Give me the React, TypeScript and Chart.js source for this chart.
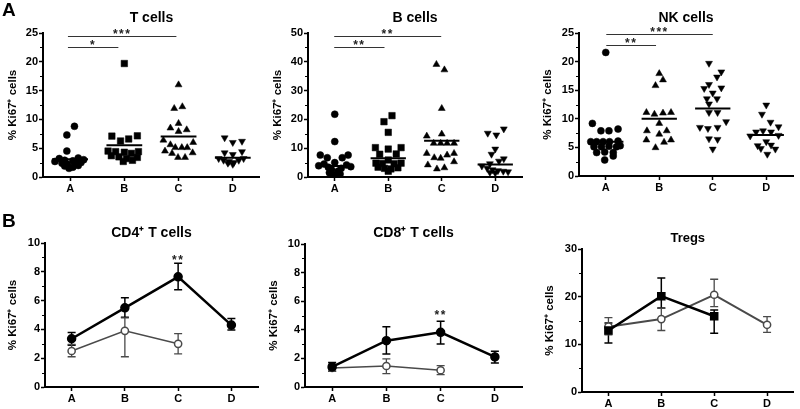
import React, { useEffect, useRef } from 'react';
import { Chart, registerables } from 'chart.js';
Chart.register(...registerables);

const FONT = '"Liberation Sans", Arial, Helvetica, sans-serif';
const categories = ['A', 'B', 'C', 'D'];
const yAxisTitle = '% Ki67\u207A cells';

// ---------- Panel A: T cells ----------
const tCellsA = [8.8, 7.3, 4.5, 3.3, 3.2, 3.0, 2.9, 2.8, 2.7, 2.5, 2.4, 2.3, 2.2, 2.0, 1.9, 1.7, 1.5];
const tCellsAJit = [0.08, -0.06, -0.06, 0.15, -0.2, 0.25, -0.1, 0.05, -0.28, 0.2, -0.15, 0.1, -0.05, 0.15, -0.1, 0.05, -0.02];
const tCellsB = [19.7, 7.1, 7.15, 6.25, 6.6, 4.5, 4.4, 4.3, 4.1, 4.4, 3.7, 3.5, 3.2, 2.9, 2.7, 3.4];
const tCellsBJit = [0, -0.23, 0.24, -0.07, 0.08, -0.3, -0.16, 0.0, 0.13, 0.26, -0.24, -0.1, 0.04, 0.15, -0.02, 0.24];
const tCellsC = [16.0, 11.9, 12.2, 9.3, 8.5, 8.2, 7.9, 6.4, 5.6, 5.1, 5.1, 5.1, 6.0, 4.5, 4.1, 4.2, 3.4, 3.4];
const tCellsCJit = [0, -0.08, 0.07, 0, -0.15, 0.15, 0, -0.28, -0.15, -0.06, 0.06, 0.16, 0.27, -0.25, -0.12, 0.26, -0.01, 0.12];
const tCellsD = [6.8, 6.0, 6.2, 4.2, 3.9, 4.4, 3.2, 2.9, 2.7, 2.5, 2.9, 3.2, 2.2, 2.4];
const tCellsDJit = [-0.15, 0, 0.17, -0.15, 0, 0.17, -0.26, -0.17, -0.07, 0.02, 0.11, 0.2, 0, -0.09];
const tCellsMedians = [3.1, 5.5, 7.05, 3.35];

// ---------- Panel A: B cells ----------
const bCellsA = [21.8, 12.3, 7.6, 6.7, 6.7, 7.6, 5.0, 4.5, 4.2, 3.9, 3.6, 3.4, 3.0, 2.5, 2.0, 1.5, 1.0, 0.7, 0.4];
const bCellsAJit = [0, 0, -0.27, -0.14, 0.14, 0.25, 0, -0.2, 0.22, -0.3, 0.3, -0.12, 0.12, -0.06, 0.06, -0.1, 0.1, 0, -0.03];
const bCellsB = [21.3, 19.2, 15.5, 10.2, 10.2, 9.7, 7.9, 8.0, 5.9, 4.8, 4.7, 4.6, 4.8, 3.4, 3.0, 2.8, 3.2, 2.0];
const bCellsBJit = [0.07, -0.08, 0, -0.24, 0.24, 0, -0.16, 0.15, 0, -0.23, -0.11, 0.11, 0.24, -0.19, -0.07, 0.05, 0.18, 0];
const bCellsC = [39.1, 37.2, 23.8, 14.2, 14.9, 11.7, 11.7, 11.7, 11.7, 8.2, 8.2, 6.7, 6.5, 7.6, 5.3, 4.2, 2.8, 3.2];
const bCellsCJit = [-0.1, 0.05, 0, -0.28, 0, -0.15, -0.02, 0.1, 0.23, -0.28, 0.23, -0.14, -0.02, 0.1, 0.23, -0.26, -0.09, 0.05];
const bCellsD = [16.7, 15.2, 14.6, 9.7, 7.9, 6.3, 5.5, 4.6, 3.8, 3.0, 2.5, 2.2, 2.0, 1.6, 1.4, 1.8];
const bCellsDJit = [0.16, -0.14, 0.02, 0, -0.07, 0.16, 0.07, -0.1, -0.25, -0.15, -0.05, 0.05, 0.15, -0.1, 0, 0.24];
const bCellsMedians = [3.8, 6.5, 12.6, 4.3];

// ---------- Panel A: NK cells ----------
const nkCellsA = [21.6, 9.2, 7.9, 7.9, 8.2, 6.0, 6.0, 6.0, 6.0, 6.1, 5.1, 5.1, 5.2, 5.1, 5.3, 4.1, 4.2, 4.1, 2.8, 3.5];
const nkCellsAJit = [0, -0.25, -0.09, 0.06, 0.23, -0.28, -0.17, -0.05, 0.07, 0.23, -0.22, -0.08, 0.06, 0.2, 0.27, -0.17, -0.02, 0.14, -0.02, 0.14];
const nkCellsB = [17.9, 15.8, 16.8, 11.1, 10.8, 11.0, 11.1, 9.2, 7.9, 7.3, 7.9, 6.3, 5.9, 6.3, 4.95];
const nkCellsBJit = [0, -0.07, 0.07, -0.24, -0.09, 0.07, 0.22, 0, -0.23, 0, 0.14, -0.24, 0.09, 0.22, -0.07];
const nkCellsC = [19.7, 18.2, 17.3, 15.3, 16.0, 15.4, 14.5, 13.5, 13.5, 12.6, 11.1, 11.1, 9.5, 8.5, 8.3, 8.5, 6.5, 6.4, 4.7];
const nkCellsCJit = [-0.07, 0.16, 0.08, -0.16, -0.07, 0.16, 0, -0.11, 0.08, -0.07, -0.07, 0.09, 0.25, -0.24, -0.09, 0.09, -0.07, 0.09, 0];
const nkCellsD = [12.4, 10.8, 9.4, 8.6, 7.7, 7.9, 7.7, 7.1, 7.0, 5.3, 6.0, 5.4, 4.7, 3.8, 4.8];
const nkCellsDJit = [0, -0.08, 0.08, 0.23, -0.19, -0.06, 0.09, 0.23, -0.3, -0.16, 0, 0.09, 0.17, 0.02, -0.1];
const nkCellsMedians = [6.0, 10.0, 11.8, 7.15];

// ---------- Panel B: CD4+ T cells ----------
const cd4Black = [3.35, 5.5, 7.65, 4.3];
const cd4BlackHi = [3.78, 6.2, 8.6, 4.75];
const cd4BlackLo = [2.9, 4.85, 6.75, 3.95];
const cd4Gray = [2.5, 3.9, 3.0];
const cd4GrayHi = [2.95, 4.8, 3.7];
const cd4GrayLo = [2.1, 2.1, 2.3];

// ---------- Panel B: CD8+ T cells ----------
const cd8Black = [1.4, 3.24, 3.82, 2.1];
const cd8BlackHi = [1.72, 4.22, 4.6, 2.5];
const cd8BlackLo = [1.1, 2.3, 3.0, 1.68];
const cd8Gray = [1.33, 1.47, 1.17];
const cd8GrayHi = [1.6, 1.96, 1.5];
const cd8GrayLo = [1.1, 0.93, 0.86];

// ---------- Panel B: Tregs ----------
const tregBlack = [12.9, 20.1, 15.9];
const tregBlackHi = [14.5, 23.9, 17.2];
const tregBlackLo = [10.3, 17.6, 12.35];
const tregGray = [13.7, 15.3, 20.4, 14.1];
const tregGrayHi = [15.6, 17.6, 23.65, 15.8];
const tregGrayLo = [12.0, 12.9, 17.9, 12.5];

const BLACK = '#000000';
const GRAY = '#4a4a4a';

type Group = { values: number[]; jitter: number[]; shape: string };
type Sig = { from: number; to: number; y: number; label: string };
type ErrBar = { hi: number[]; lo: number[]; color: string; width: number };
type Spec = {
  left: number; top: number; w: number; h: number;
  padLeft: number; padRight: number; yw: number; xh: number;
  title: string; titleSize: number; titleTop: number; titleBottom: number;
  yMax: number; yStep: number; yMinor: number;
  datasets: any[];
  medians?: number[];
  sigs?: Sig[];
  stars?: { x: number; y: number; label: string }[];
  errors?: ErrBar[];
};

function scatterDatasets(groups: Group[]) {
  return groups.map((g, gi) => {
    const down = g.shape === 'down';
    const style = down ? 'triangle' : g.shape;
    const r = style === 'circle' ? 3.5 : style === 'rect' ? 4.6 : 4.0;
    return {
      data: g.values.map((v, i) => ({ x: gi + 1 + g.jitter[i], y: v })),
      pointStyle: style,
      pointRotation: down ? 180 : 0,
      pointRadius: r,
      pointBackgroundColor: BLACK,
      pointBorderColor: BLACK,
      pointBorderWidth: 0.5,
      showLine: false,
    };
  });
}

function lineDataset(values: number[], color: string, width: number, filled: boolean, style: string) {
  return {
    data: values.map((v, i) => ({ x: i + 1, y: v })),
    showLine: true,
    borderColor: color,
    borderWidth: width,
    pointStyle: style,
    pointRadius: style === 'rect' ? 5 : filled ? 4 : 3.6,
    pointBackgroundColor: filled ? color : '#ffffff',
    pointBorderColor: color,
    pointBorderWidth: 1.5,
    tension: 0,
  };
}

function overlay(spec: Spec) {
  return {
    id: 'overlay',
    beforeDatasetsDraw(chart: any) {
      const { ctx } = chart;
      const xs = chart.scales.x, ys = chart.scales.y;
      (spec.errors || []).forEach((eb) => {
        ctx.save();
        ctx.strokeStyle = eb.color;
        ctx.lineWidth = eb.width;
        eb.hi.forEach((h, i) => {
          const x = xs.getPixelForValue(i + 1);
          const y1 = ys.getPixelForValue(h);
          const y2 = ys.getPixelForValue(eb.lo[i]);
          ctx.beginPath();
          ctx.moveTo(x, y1); ctx.lineTo(x, y2);
          ctx.moveTo(x - 4, y1); ctx.lineTo(x + 4, y1);
          ctx.moveTo(x - 4, y2); ctx.lineTo(x + 4, y2);
          ctx.stroke();
        });
        ctx.restore();
      });
    },
    afterDatasetsDraw(chart: any) {
      const { ctx } = chart;
      const xs = chart.scales.x, ys = chart.scales.y;
      (spec.medians || []).forEach((m, i) => {
        const y = ys.getPixelForValue(m);
        ctx.save();
        ctx.strokeStyle = BLACK;
        ctx.lineWidth = 2;
        ctx.beginPath();
        ctx.moveTo(xs.getPixelForValue(i + 1 - 0.33), y);
        ctx.lineTo(xs.getPixelForValue(i + 1 + 0.33), y);
        ctx.stroke();
        ctx.restore();
      });
    },
    afterDraw(chart: any) {
      const { ctx, chartArea } = chart;
      const xs = chart.scales.x, ys = chart.scales.y;
      ctx.save();
      ctx.strokeStyle = BLACK;
      ctx.lineWidth = 1;
      for (let v = 0; v <= spec.yMax + 1e-9; v += spec.yMinor) {
        const q = v / spec.yStep;
        if (Math.abs(q - Math.round(q)) < 1e-6) continue;
        const y = Math.round(ys.getPixelForValue(v)) + 0.5;
        ctx.beginPath();
        ctx.moveTo(chartArea.left - 3, y);
        ctx.lineTo(chartArea.left, y);
        ctx.stroke();
      }
      ctx.restore();
      const drawStars = (text: string, x: number, y: number) => {
        ctx.save();
        ctx.fillStyle = '#222';
        ctx.font = `bold 12px ${FONT}`;
        (ctx as any).letterSpacing = '1.5px';
        ctx.textAlign = 'center';
        ctx.textBaseline = 'alphabetic';
        ctx.fillText(text, x, y + 2.5);
        ctx.restore();
      };
      (spec.sigs || []).forEach((s) => {
        const y = Math.round(ys.getPixelForValue(s.y)) + 0.5;
        const x1 = xs.getPixelForValue(s.from);
        const x2 = xs.getPixelForValue(s.to);
        ctx.save();
        ctx.strokeStyle = '#333';
        ctx.lineWidth = 1;
        ctx.beginPath();
        ctx.moveTo(x1, y); ctx.lineTo(x2, y);
        ctx.stroke();
        ctx.restore();
        drawStars(s.label, (x1 + x2) / 2, y - 1);
      });
      (spec.stars || []).forEach((s) => {
        drawStars(s.label, xs.getPixelForValue(s.x), ys.getPixelForValue(s.y));
      });
    },
  };
}

function buildConfig(spec: Spec): any {
  const tickFont = { family: FONT, size: 11, weight: 'bold' as const };
  return {
    type: 'scatter',
    data: { datasets: spec.datasets },
    options: {
      animation: false,
      responsive: false,
      maintainAspectRatio: false,
      events: [],
      layout: { padding: { left: spec.padLeft, right: spec.padRight, top: 0, bottom: 0 } },
      plugins: {
        legend: { display: false },
        tooltip: { enabled: false },
        title: {
          display: true,
          text: spec.title,
          fullSize: false,
          color: '#000',
          font: { family: FONT, size: spec.titleSize, weight: 'bold' },
          padding: { top: spec.titleTop, bottom: spec.titleBottom },
        },
      },
      scales: {
        x: {
          type: 'linear',
          min: 0.5,
          max: 4.5,
          afterBuildTicks: (axis: any) => {
            axis.ticks = categories.map((_, i) => ({ value: i + 1 }));
          },
          afterFit: (axis: any) => { axis.height = spec.xh; },
          ticks: {
            callback: (v: any) => categories[Math.round(v) - 1] ?? '',
            font: { family: FONT, size: 11, weight: 'bold' },
            color: '#000',
            padding: 1,
            maxRotation: 0,
            autoSkip: false,
          },
          grid: { drawOnChartArea: false, drawTicks: true, tickLength: 4, tickColor: BLACK, tickWidth: 1.5 },
          border: { display: true, color: BLACK, width: 2 },
        },
        y: {
          type: 'linear',
          min: 0,
          max: spec.yMax,
          afterFit: (axis: any) => { axis.width = spec.yw; },
          ticks: { stepSize: spec.yStep, font: tickFont, color: '#000', padding: 1 },
          grid: { drawOnChartArea: false, drawTicks: true, tickLength: 4, tickColor: BLACK, tickWidth: 1.5 },
          border: { display: true, color: BLACK, width: 2 },
          title: {
            display: true,
            text: yAxisTitle,
            color: '#000',
            font: { family: FONT, size: 11.5, weight: 'bold' },
            padding: { top: 0, bottom: 0 },
          },
        },
      },
    },
    plugins: [overlay(spec)],
  };
}

const specs: Spec[] = [
  {
    left: 0, top: 0, w: 265, h: 200, padLeft: 6, padRight: 3, yw: 37, xh: 23,
    title: 'T cells', titleSize: 14, titleTop: 9.6, titleBottom: 6.6,
    yMax: 25, yStep: 5, yMinor: 2.5,
    datasets: scatterDatasets([
      { values: tCellsA, jitter: tCellsAJit, shape: 'circle' },
      { values: tCellsB, jitter: tCellsBJit, shape: 'rect' },
      { values: tCellsC, jitter: tCellsCJit, shape: 'triangle' },
      { values: tCellsD, jitter: tCellsDJit, shape: 'down' },
    ]),
    medians: tCellsMedians,
    sigs: [
      { from: 0.96, to: 1.89, y: 22.6, label: '*' },
      { from: 0.96, to: 2.96, y: 24.5, label: '***' },
    ],
  },
  {
    left: 265, top: 0, w: 265, h: 200, padLeft: 6, padRight: 8, yw: 37, xh: 23,
    title: 'B cells', titleSize: 14, titleTop: 9.6, titleBottom: 6.6,
    yMax: 50, yStep: 10, yMinor: 5,
    datasets: scatterDatasets([
      { values: bCellsA, jitter: bCellsAJit, shape: 'circle' },
      { values: bCellsB, jitter: bCellsBJit, shape: 'rect' },
      { values: bCellsC, jitter: bCellsCJit, shape: 'triangle' },
      { values: bCellsD, jitter: bCellsDJit, shape: 'down' },
    ]),
    medians: bCellsMedians,
    sigs: [
      { from: 0.99, to: 1.93, y: 45.2, label: '**' },
      { from: 0.99, to: 2.99, y: 49.1, label: '**' },
    ],
  },
  {
    left: 530, top: 0, w: 270, h: 200, padLeft: 11, padRight: 7, yw: 38, xh: 24,
    title: 'NK cells', titleSize: 14, titleTop: 9.6, titleBottom: 6.6,
    yMax: 25, yStep: 5, yMinor: 2.5,
    datasets: scatterDatasets([
      { values: nkCellsA, jitter: nkCellsAJit, shape: 'circle' },
      { values: nkCellsB, jitter: nkCellsBJit, shape: 'triangle' },
      { values: nkCellsC, jitter: nkCellsCJit, shape: 'down' },
      { values: nkCellsD, jitter: nkCellsDJit, shape: 'down' },
    ]),
    medians: nkCellsMedians,
    sigs: [
      { from: 1.01, to: 1.94, y: 22.9, label: '**' },
      { from: 1.01, to: 3.0, y: 24.8, label: '***' },
    ],
  },
  {
    left: 0, top: 200, w: 265, h: 209, padLeft: 6, padRight: 7, yw: 39, xh: 22,
    title: 'CD4\u207A T cells', titleSize: 14, titleTop: 24.6, titleBottom: 1.6,
    yMax: 10, yStep: 2, yMinor: 1,
    datasets: [
      lineDataset(cd4Black, BLACK, 2.5, true, 'circle'),
      lineDataset(cd4Gray, GRAY, 1.5, false, 'circle'),
    ],
    errors: [
      { hi: cd4BlackHi, lo: cd4BlackLo, color: BLACK, width: 1.5 },
      { hi: cd4GrayHi, lo: cd4GrayLo, color: GRAY, width: 1.3 },
    ],
    stars: [{ x: 3, y: 8.75, label: '**' }],
  },
  {
    left: 265, top: 200, w: 265, h: 209, padLeft: 2, padRight: 8, yw: 38, xh: 22,
    title: 'CD8\u207A T cells', titleSize: 14, titleTop: 24.6, titleBottom: 2.6,
    yMax: 10, yStep: 2, yMinor: 1,
    datasets: [
      lineDataset(cd8Black, BLACK, 2.5, true, 'circle'),
      lineDataset(cd8Gray, GRAY, 1.5, false, 'circle'),
    ],
    errors: [
      { hi: cd8BlackHi, lo: cd8BlackLo, color: BLACK, width: 1.5 },
      { hi: cd8GrayHi, lo: cd8GrayLo, color: GRAY, width: 1.3 },
    ],
    stars: [{ x: 3, y: 4.9, label: '**' }],
  },
  {
    left: 530, top: 200, w: 270, h: 209, padLeft: 13, padRight: 2, yw: 39, xh: 17,
    title: 'Tregs', titleSize: 13, titleTop: 30.2, titleBottom: 3.2,
    yMax: 30, yStep: 10, yMinor: 5,
    datasets: [
      lineDataset(tregBlack, BLACK, 2.5, true, 'rect'),
      lineDataset(tregGray, GRAY, 2, false, 'circle'),
    ],
    errors: [
      { hi: tregBlackHi, lo: tregBlackLo, color: BLACK, width: 1.5 },
      { hi: tregGrayHi, lo: tregGrayLo, color: GRAY, width: 1.3 },
    ],
  },
];

function Panel({ spec }: { spec: Spec }) {
  const ref = useRef<HTMLCanvasElement>(null);
  useEffect(() => {
    const chart = new Chart(ref.current as HTMLCanvasElement, buildConfig(spec));
    return () => chart.destroy();
  }, [spec]);
  return (
    <canvas
      ref={ref}
      width={spec.w}
      height={spec.h}
      style={{ position: 'absolute', left: spec.left, top: spec.top, width: spec.w, height: spec.h }}
    />
  );
}

const letterStyle: React.CSSProperties = {
  position: 'absolute',
  fontFamily: FONT,
  fontWeight: 'bold',
  fontSize: 19,
  lineHeight: '19px',
  color: '#000',
};

export default function App() {
  return (
    <div style={{ position: 'fixed', left: 0, top: 0, width: 800, height: 409, background: '#fff', overflow: 'hidden' }}>
      {specs.map((s, i) => (
        <Panel key={i} spec={s} />
      ))}
      <div style={{ ...letterStyle, left: 2, top: 0 }}>A</div>
      <div style={{ ...letterStyle, left: 2, top: 211 }}>B</div>
    </div>
  );
}
